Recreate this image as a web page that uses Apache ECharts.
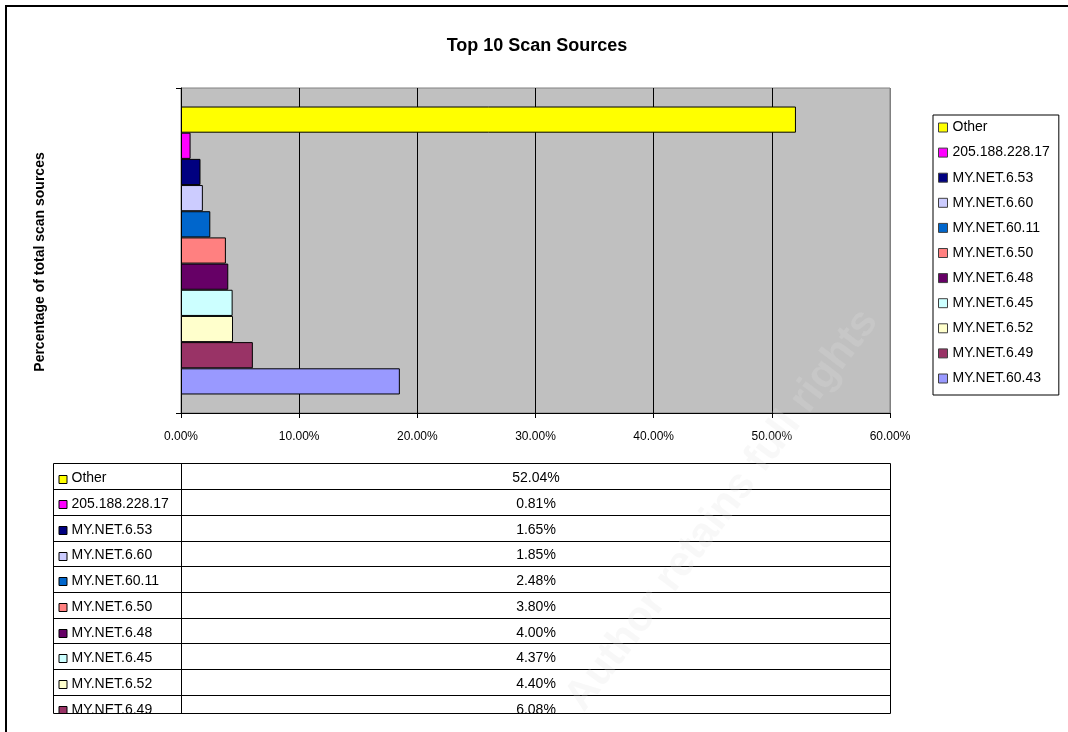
<!DOCTYPE html>
<html>
<head>
<meta charset="utf-8">
<title>Top 10 Scan Sources</title>
<script src="https://cdn.jsdelivr.net/npm/echarts@6/dist/echarts.min.js"></script>
<style>
  html, body { margin: 0; padding: 0; background: #fff; }
  #chart { width: 1068px; height: 732px; }
</style>
</head>
<body>
<div id="chart"></div>
<script>
// Scan sources, bottom bar first (Excel clustered bar order)
const sources = ['MY.NET.60.43', 'MY.NET.6.49', 'MY.NET.6.52', 'MY.NET.6.45', 'MY.NET.6.48',
                 'MY.NET.6.50', 'MY.NET.60.11', 'MY.NET.6.60', 'MY.NET.6.53', '205.188.228.17', 'Other'];
// Share of total scan sources, in percent
const shares = [18.52, 6.08, 4.40, 4.37, 4.00, 3.80, 2.48, 1.85, 1.65, 0.81, 52.04];
// Classic Excel palette, one per source
const palette = ['#9999FF', '#993366', '#FFFFCC', '#CCFFFF', '#660066',
                 '#FF8080', '#0066CC', '#CCCCFF', '#000080', '#FF00FF', '#FFFF00'];
// Value axis ticks
const axisMin = 0, axisMax = 60, axisStep = 10;

const chart = echarts.init(document.getElementById('chart'), null, { renderer: 'canvas' });

const plot = { left: 181, top: 88, right: 890, bottom: 413 };
const baseFont = "'Liberation Sans', Arial, sans-serif";

// ECharts stacks horizontal clustered bars top-down by series index,
// so the series list runs from the top bar (Other) to the bottom one.
const series = [];
for (let i = sources.length - 1; i >= 0; i--) {
  series.push({
    name: sources[i],
    type: 'bar',
    data: [shares[i]],
    barGap: '0%',
    barCategoryGap: '11.4%',
    itemStyle: { color: palette[i], borderColor: '#000', borderWidth: 1 },
    emphasis: { disabled: true },
    silent: true,
    animation: false
  });
}

// Legend and table list the sources top-down
const topDown = sources.slice().reverse();

// Data table under the plot
const table = { left: 53.5, split: 181.5, right: 890.5, top: 463.5, rowH: 25.7, clipY: 713.5 };
const graphics = [];
for (let r = 0; r < topDown.length; r++) {
  const idx = sources.length - 1 - r;
  const y0 = table.top + r * table.rowH;
  if (y0 > table.clipY) break;
  const cy = y0 + 15;
  graphics.push({
    type: 'rect', z: 10,
    shape: { x: table.left + 5.5, y: Math.round(cy - 4) + 0.5, width: 8, height: 8 },
    style: { fill: palette[idx], stroke: '#000', lineWidth: 1 }
  });
  graphics.push({
    type: 'text', z: 10, x: table.left + 18, y: cy,
    style: { text: topDown[r], font: '14px ' + baseFont, fill: '#000', textVerticalAlign: 'middle' }
  });
  graphics.push({
    type: 'text', z: 10, x: (table.split + table.right) / 2, y: cy,
    style: { text: shares[idx].toFixed(2) + '%', font: '14px ' + baseFont, fill: '#000',
             textAlign: 'center', textVerticalAlign: 'middle' }
  });
  if (r > 0) {
    const yl = Math.round(y0) + 0.5;
    graphics.push({ type: 'line', z: 11, shape: { x1: table.left, y1: yl, x2: table.right, y2: yl },
                    style: { stroke: '#000', lineWidth: 1 } });
  }
}
// cover what runs past the bottom edge of the sheet area
graphics.push({ type: 'rect', z: 20, shape: { x: 8, y: table.clipY + 0.5, width: 1060, height: 40 },
                style: { fill: '#fff' } });
// table outline
const outline = [
  [table.left, table.top, table.right, table.top],
  [table.left, table.clipY, table.right, table.clipY],
  [table.left, table.top, table.left, table.clipY],
  [table.split, table.top, table.split, table.clipY],
  [table.right, table.top, table.right, table.clipY]
];
outline.forEach(s => graphics.push({
  type: 'line', z: 21, shape: { x1: s[0], y1: s[1], x2: s[2], y2: s[3] },
  style: { stroke: '#000', lineWidth: 1 }
}));

// chart title and axis title
graphics.push({
  type: 'text', z: 5, x: 537, y: 46,
  style: { text: 'Top 10 Scan Sources', font: 'bold 18px ' + baseFont, fill: '#000',
           textAlign: 'center', textVerticalAlign: 'middle' }
});
graphics.push({
  type: 'text', z: 5, x: 40, y: 262, rotation: Math.PI / 2,
  style: { text: 'Percentage of total scan sources', font: 'bold 14px ' + baseFont, fill: '#000',
           textAlign: 'center', textVerticalAlign: 'middle' }
});

// faint page watermark
graphics.push({
  type: 'text', z: 30, x: 722, y: 510, rotation: Math.PI * 53 / 180,
  style: { text: 'Author retains full rights', font: 'bold 42px ' + baseFont, fill: '#e0e0e0',
           opacity: 0.22, textAlign: 'center', textVerticalAlign: 'middle' }
});

// sheet frame
graphics.push({ type: 'rect', z: 40, shape: { x: 6, y: 6, width: 1200, height: 900 },
                style: { fill: 'none', stroke: '#000', lineWidth: 2 } });

const gridLineColors = [];
for (let v = axisMin; v <= axisMax; v += axisStep) gridLineColors.push(v === axisMax ? '#808080' : '#000');

chart.setOption({
  animation: false,
  backgroundColor: '#fff',
  grid: {
    left: plot.left, top: plot.top, width: plot.right - plot.left, height: plot.bottom - plot.top,
    show: true, backgroundColor: '#C0C0C0', borderColor: '#808080', borderWidth: 1,
    containLabel: false
  },
  legend: {
    orient: 'vertical',
    left: 933, top: 115,
    data: topDown,
    itemWidth: 9, itemHeight: 9, itemGap: 10.1,
    icon: 'rect',
    padding: [5, 9, 9, 5],
    backgroundColor: '#fff', borderColor: '#000', borderWidth: 1,
    selectedMode: false,
    itemStyle: { borderColor: '#404040', borderWidth: 1 },
    textStyle: { fontFamily: baseFont, fontSize: 14, color: '#000', lineHeight: 15 }
  },
  xAxis: {
    type: 'value', min: axisMin, max: axisMax, interval: axisStep,
    axisLine: { show: true, lineStyle: { color: '#000', width: 1 } },
    axisTick: { show: true, length: 5, lineStyle: { color: '#000' } },
    axisLabel: {
      margin: 18, color: '#000', fontSize: 12, fontFamily: baseFont,
      formatter: v => v.toFixed(2) + '%'
    },
    splitLine: { show: true, lineStyle: { color: gridLineColors, width: 1 } }
  },
  yAxis: {
    type: 'category', data: [''],
    axisLine: { show: true, lineStyle: { color: '#000', width: 1 } },
    axisTick: { show: true, length: 5, lineStyle: { color: '#000' } },
    axisLabel: { show: false },
    splitLine: { show: false }
  },
  series: series,
  graphic: graphics
});
</script>
</body>
</html>
